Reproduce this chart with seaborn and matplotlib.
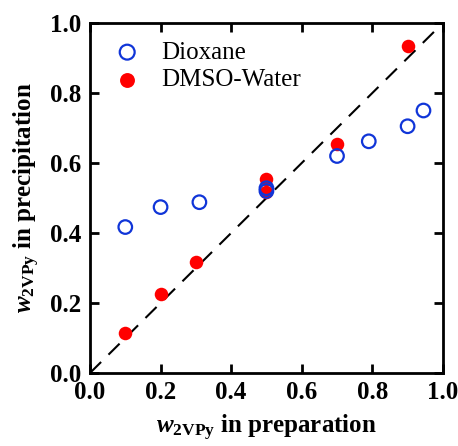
import numpy as np
import matplotlib
matplotlib.use("Agg")
import matplotlib.pyplot as plt
import seaborn as sns

# data
dioxane_x = [0.10, 0.20, 0.31, 0.50, 0.50, 0.70, 0.79, 0.90, 0.945]
dioxane_y = [0.417, 0.474, 0.488, 0.520, 0.528, 0.620, 0.662, 0.705, 0.750]
dmso_x = [0.10, 0.20, 0.30, 0.50, 0.50, 0.70, 0.90]
dmso_y = [0.113, 0.226, 0.317, 0.517, 0.555, 0.653, 0.935]
ticks = [0.0, 0.2, 0.4, 0.6, 0.8, 1.0]

sns.set_style("ticks")
plt.rcParams["font.family"] = ["Liberation Serif", "DejaVu Serif"]
plt.rcParams["mathtext.fontset"] = "custom"
plt.rcParams["mathtext.rm"] = "Liberation Serif:bold"
plt.rcParams["mathtext.it"] = "Liberation Serif:italic:bold"
plt.rcParams["mathtext.bf"] = "Liberation Serif:bold"
for key in ["text.color", "axes.labelcolor", "xtick.color", "ytick.color"]:
    plt.rcParams[key] = "black"

fig = plt.figure(figsize=(4.58, 4.46), dpi=100)
ax = fig.add_axes([0.1965, 0.1637, 0.7705, 0.7847])

ax.plot([0, 1], [0, 1], color="black", lw=1.5, dashes=(7.5, 5.0), zorder=1)

sns.scatterplot(x=dioxane_x, y=dioxane_y, ax=ax, marker="o", s=95,
                facecolors="none", edgecolor="#1035d8", linewidth=1.6,
                label="Dioxane", zorder=3)
sns.scatterplot(x=dmso_x, y=dmso_y, ax=ax, marker="o", s=95,
                color="#ff0000", edgecolor="#ff0000", linewidth=0,
                label="DMSO-Water", zorder=2)

ax.set_xlim(0, 1)
ax.set_ylim(0, 1)
ax.set_xticks(ticks)
ax.set_yticks(ticks)
ax.set_xticklabels([f"{t:.1f}" for t in ticks], fontweight="bold", fontsize=18)
ax.set_yticklabels([f"{t:.1f}" for t in ticks], fontweight="bold", fontsize=18)
ax.tick_params(direction="in", length=6.5, width=2, top=True, right=True, pad=6)
for sp in ax.spines.values():
    sp.set_linewidth(2)
    sp.set_color("black")

ax.set_xlabel(r"$\mathit{w}_{\mathrm{2VPy}}$ in preparation", fontsize=18,
              fontweight="bold", labelpad=6)
ax.set_ylabel(r"$\mathit{w}_{\mathrm{2VPy}}$ in precipitation", fontsize=18,
              fontweight="bold", labelpad=6)

leg = ax.legend(loc="upper left", frameon=False, fontsize=18,
                handlelength=1.0, handletextpad=0.85, borderpad=0.0,
                borderaxespad=0.0, labelspacing=0.2,
                bbox_to_anchor=(0.07, 0.948), markerscale=1.1)

fig.savefig("out.png", dpi=100)
